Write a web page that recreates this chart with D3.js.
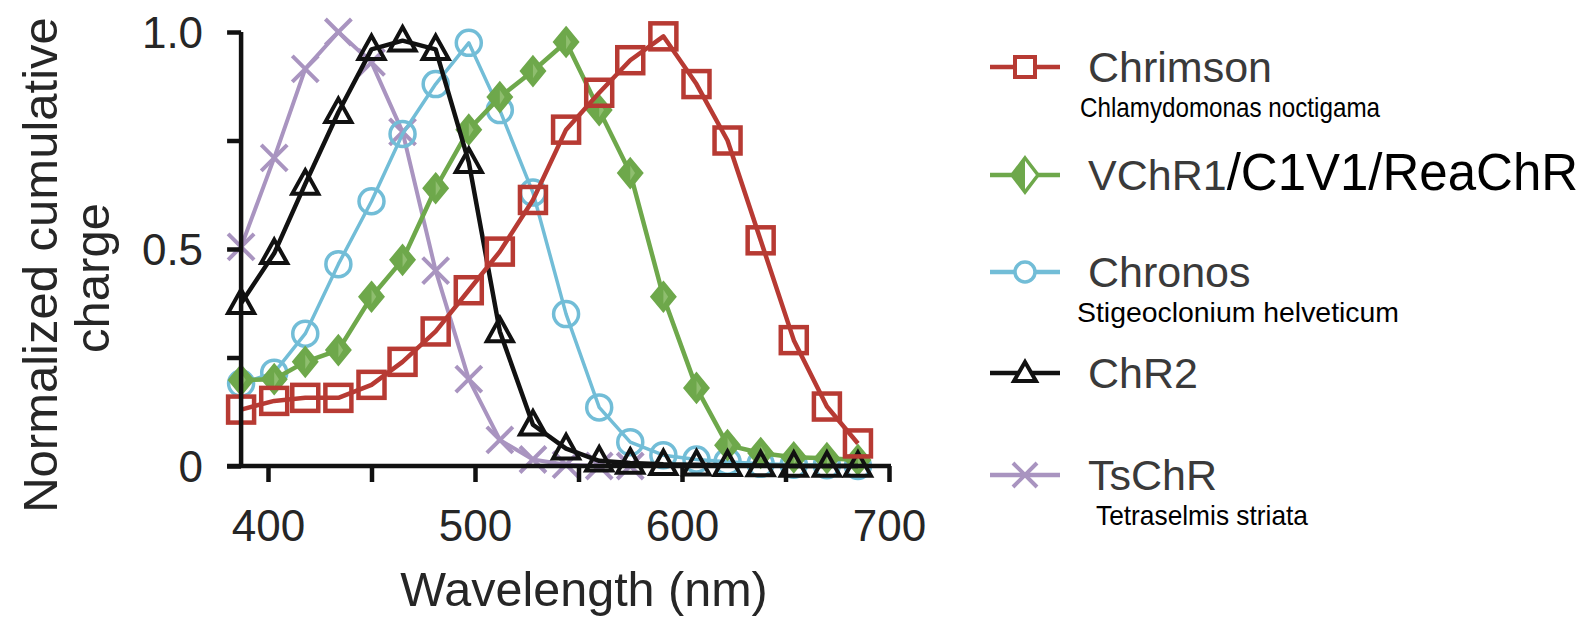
<!DOCTYPE html>
<html>
<head>
<meta charset="utf-8">
<script src="https://cdn.jsdelivr.net/npm/d3@7"></script>
<style>
  body { margin: 0; background: #fff; }
  svg { display: block; }
  text { font-family: "Liberation Sans", Arial, Helvetica, sans-serif; }
</style>
</head>
<body>
<svg id="chart" width="1585" height="620"></svg>
<script>
// wavelengths (nm) of the measured points
const wavelengths = [387, 403, 418, 434, 450, 465, 481, 497, 512, 528, 544, 560, 575, 591, 607, 622, 638, 654, 670, 685];

// normalized cumulative charge, one list per opsin
const chrimson = [0.13, 0.15, 0.157, 0.157, 0.187, 0.24, 0.31, 0.405, 0.494, 0.613, 0.775, 0.86, 0.935, 0.99, 0.88, 0.75, 0.52, 0.29, 0.137, 0.052];
const vchr1    = [0.198, 0.2, 0.24, 0.267, 0.39, 0.475, 0.64, 0.775, 0.85, 0.91, 0.977, 0.82, 0.675, 0.39, 0.18, 0.048, 0.03, 0.02, 0.018, 0.014];
const chronos  = [0.19, 0.215, 0.305, 0.465, 0.61, 0.765, 0.88, 0.975, 0.82, 0.63, 0.35, 0.135, 0.055, 0.025, 0.015, 0.01, 0.005, 0.003, 0.002, 0.0];
const chr2     = [0.375, 0.49, 0.65, 0.815, 0.96, 0.98, 0.96, 0.70, 0.31, 0.095, 0.04, 0.012, 0.007, 0.004, 0.003, 0.002, 0.001, 0, 0, 0];
const tschr    = [0.505, 0.71, 0.915, 1.0, 0.93, 0.77, 0.45, 0.2, 0.06, 0.015, 0.003, 0, 0];

const xTicks = [400, 450, 500, 550, 600, 650, 700];
const xTickLabels = ["400", "", "500", "", "600", "", "700"];
const yTicks = [0, 0.25, 0.5, 0.75, 1];
const yTickLabels = ["0", "", "0.5", "", "1.0"];

const seriesNames = ["Chrimson", "VChR1", "Chronos", "ChR2", "TsChR"];
const speciesNames = ["Chlamydomonas noctigama", "", "Stigeoclonium helveticum", "", "Tetraselmis striata"];

// drawing order: bottom to top
const series = [
  { name: "TsChR",    values: tschr,    color: "#a994c0", shape: "x",        width: 4 },
  { name: "Chronos",  values: chronos,  color: "#72bdd7", shape: "circle",   width: 3.5 },
  { name: "VChR1",    values: vchr1,    color: "#6ea84b", shape: "diamond",  width: 4.5 },
  { name: "ChR2",     values: chr2,     color: "#111111", shape: "triangle", width: 4.5 },
  { name: "Chrimson", values: chrimson, color: "#b73a33", shape: "square",   width: 4.5 }
];

const svg = d3.select("#chart");

const x = d3.scaleLinear().domain([400, 700]).range([268, 889]);
const y = d3.scaleLinear().domain([0, 1]).range([466, 32]);
const axisX = x(wavelengths[0]);

// marker shapes
function drawMarker(g, shape, color, s) {
  if (shape === "square") {
    g.append("rect").attr("x", -s).attr("y", -s).attr("width", 2 * s).attr("height", 2 * s)
      .attr("fill", "none").attr("stroke", color).attr("stroke-width", 4.5);
  } else if (shape === "circle") {
    g.append("circle").attr("r", s).attr("fill", "none").attr("stroke", color).attr("stroke-width", 3.5);
  } else if (shape === "triangle") {
    g.append("path").attr("d", `M0,${-s * 1.05}L${s},${s * 0.75}L${-s},${s * 0.75}Z`)
      .attr("fill", "none").attr("stroke", color).attr("stroke-width", 4).attr("stroke-linejoin", "miter");
  } else if (shape === "diamond") {
    const w = s * 0.95, h = s * 1.15;
    g.append("path").attr("d", `M0,${-h}L${w},0L0,${h}L${-w},0Z`).attr("fill", color).attr("stroke", color).attr("stroke-width", 2.5);
    g.append("path").attr("d", `M0,${-h * 0.5}L${w * 0.4},0L0,${h * 0.5}Z`).attr("fill", "#9cc77f").attr("opacity", 0.7);
  } else if (shape === "x") {
    g.append("path").attr("d", `M${-s},${-s}L${s},${s}M${-s},${s}L${s},${-s}`)
      .attr("stroke", color).attr("stroke-width", 4).attr("fill", "none");
  }
}

const markerSize = { square: 13, circle: 12.5, triangle: 13, diamond: 12.5, x: 13 };

// series lines and markers
const line = d3.line().x(d => x(d[0])).y(d => y(d[1]));

series.forEach(s => {
  const pts = s.values.map((v, i) => [wavelengths[i], v]);
  const g = svg.append("g").attr("class", "series");
  g.append("path").datum(pts).attr("d", line)
    .attr("fill", "none").attr("stroke", s.color).attr("stroke-width", s.width).attr("stroke-linejoin", "round");
  pts.forEach(p => {
    const m = g.append("g").attr("transform", `translate(${x(p[0])},${y(p[1])})`);
    drawMarker(m, s.shape, s.color, markerSize[s.shape]);
  });
});

// y axis
const yAxis = svg.append("g").attr("transform", `translate(${axisX},0)`)
  .call(d3.axisLeft(y).tickValues(yTicks).tickSize(14).tickPadding(24)
    .tickFormat((d, i) => yTickLabels[i]));
yAxis.select(".domain").attr("d", `M0,${y(1)}V${y(0)}`).attr("stroke", "#111").attr("stroke-width", 4.5);
yAxis.selectAll(".tick line").attr("stroke", "#111").attr("stroke-width", 4.5);
yAxis.selectAll(".tick text").attr("font-size", 44).attr("fill", "#262626").attr("dy", "0.35em");

// x axis
const xAxis = svg.append("g").attr("transform", `translate(0,${y(0)})`)
  .call(d3.axisBottom(x).tickValues(xTicks).tickSize(16).tickPadding(28)
    .tickFormat((d, i) => xTickLabels[i]));
xAxis.select(".domain").attr("d", `M${axisX - 14},0H${x(700) + 2}`).attr("stroke", "#111").attr("stroke-width", 4.5);
xAxis.selectAll(".tick line").attr("stroke", "#111").attr("stroke-width", 4.5);
xAxis.selectAll(".tick text").attr("font-size", 44).attr("fill", "#262626");

// axis titles
svg.append("text").attr("x", 584).attr("y", 606).attr("text-anchor", "middle")
  .attr("font-size", 48.5).attr("fill", "#262626").text("Wavelength (nm)");
svg.append("text").attr("transform", "translate(57,265) rotate(-90)").attr("text-anchor", "middle")
  .attr("font-size", 49).attr("fill", "#262626").text("Normalized cumulative");
svg.append("text").attr("transform", "translate(109,278) rotate(-90)").attr("text-anchor", "middle")
  .attr("font-size", 49).attr("fill", "#262626").text("charge");

// legend
const legendRows = [
  { name: "Chrimson", y: 67 },
  { name: "VChR1", y: 175 },
  { name: "Chronos", y: 272 },
  { name: "ChR2", y: 373 },
  { name: "TsChR", y: 475 }
];
const speciesWidth = { "Chlamydomonas noctigama": 300, "Stigeoclonium helveticum": 322, "Tetraselmis striata": 212 };
const speciesX = { "Chlamydomonas noctigama": 1080, "Stigeoclonium helveticum": 1077, "Tetraselmis striata": 1096 };
const lx0 = 990, lx1 = 1060, tx = 1088;
legendRows.forEach(r => {
  const s = series.find(d => d.name === r.name);
  const g = svg.append("g").attr("class", "legend-row");
  g.append("line").attr("x1", lx0).attr("x2", lx1).attr("y1", r.y).attr("y2", r.y)
    .attr("stroke", s.color).attr("stroke-width", 4.5);
  const m = g.append("g").attr("transform", `translate(${(lx0 + lx1) / 2},${r.y})`);
  if (s.shape === "square") {
    m.append("rect").attr("x", -10).attr("y", -10).attr("width", 20).attr("height", 20)
      .attr("fill", "#fff").attr("stroke", s.color).attr("stroke-width", 4);
  } else if (s.shape === "circle") {
    m.append("circle").attr("r", 10).attr("fill", "#fff").attr("stroke", s.color).attr("stroke-width", 3.5);
  } else if (s.shape === "triangle") {
    m.append("path").attr("d", "M0,-11L11,8L-11,8Z").attr("fill", "#fff").attr("stroke", s.color).attr("stroke-width", 4);
  } else if (s.shape === "diamond") {
    m.append("path").attr("d", "M0,-17L13,0L0,17L-13,0Z").attr("fill", "#fff").attr("stroke", s.color).attr("stroke-width", 3.5);
    m.append("path").attr("d", "M0,-17L0,17L-13,0Z").attr("fill", s.color);
  } else if (s.shape === "x") {
    m.append("path").attr("d", "M-12,-12L12,12M-12,12L12,-12").attr("stroke", s.color).attr("stroke-width", 4);
  }
  const t = g.append("text").attr("x", tx).attr("y", r.y + 15).attr("font-size", 43).attr("fill", "#3a3a3a");
  t.append("tspan").text(r.name);
  if (r.name === "VChR1") {
    t.append("tspan").attr("font-size", 51).attr("fill", "#000").text("/C1V1/ReaChR");
  }
  const sp = speciesNames[seriesNames.indexOf(r.name)];
  if (sp) {
    g.append("text").attr("x", speciesX[sp]).attr("y", r.y + 50)
      .attr("font-family", "'Open Sans', 'Noto Sans', sans-serif")
      .attr("font-size", 28).attr("fill", "#000")
      .attr("textLength", speciesWidth[sp]).attr("lengthAdjust", "spacingAndGlyphs")
      .text(sp);
  }
});
</script>
</body>
</html>
